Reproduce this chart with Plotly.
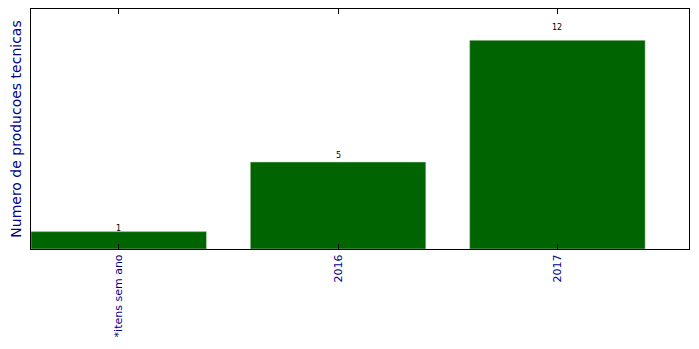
import plotly.graph_objects as go

categories = ["*itens sem ano", "2016", "2017"]
values = [1, 5, 12]

fig = go.Figure()
fig.add_trace(go.Bar(
    x=list(range(len(categories))), y=values, width=0.8,
    marker=dict(color="#006400", line=dict(color="#c8d8c8", width=0.5)),
    showlegend=False, hoverinfo="skip"))

for i, v in enumerate(values):
    fig.add_annotation(x=i, y=v * 1.05, text=str(v), showarrow=False,
                       yanchor="bottom", xanchor="center", yshift=-4,
                       font=dict(size=8, color="black", family="DejaVu Sans"))

fig.update_layout(
    width=699, height=349,
    margin=dict(l=31, r=10, t=9, b=100),
    paper_bgcolor="white", plot_bgcolor="white",
    font=dict(family="DejaVu Sans"),
    bargap=0.2,
)
fig.update_xaxes(
    range=[-0.4, 2.6], tickmode="array", tickvals=list(range(len(categories))),
    ticktext=categories, tickangle=-90,
    tickfont=dict(size=11, color="#00008B"),
    ticks="inside", ticklen=5, tickcolor="black",
    showline=True, linecolor="black", linewidth=1, mirror="allticks",
    showgrid=False, zeroline=False,
)
fig.update_yaxes(
    range=[0, 13.8], showticklabels=False, ticks="",
    showline=True, linecolor="black", linewidth=1, mirror=True,
    showgrid=False, zeroline=False,
    title=dict(text="Numero de producoes tecnicas", standoff=5,
               font=dict(size=14, color="#00008B")),
)
fig.write_html("out.html")
